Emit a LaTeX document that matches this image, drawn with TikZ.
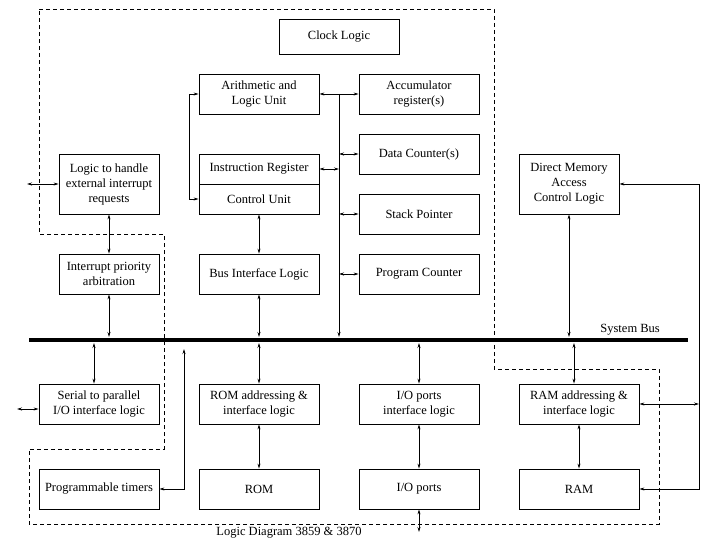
\documentclass[tikz,border=0pt]{standalone}
\usepackage{fontspec}
\setmainfont{Liberation Serif}
\usetikzlibrary{arrows.meta}

\tikzset{
  blk/.style={draw, line width=0.8pt, minimum width=120pt, minimum height=40pt, inner sep=1pt, align=center},
  sblk/.style={blk, minimum width=100pt, minimum height=60pt},
  lnk/.style={line width=0.8pt, {Stealth[length=5pt,width=3pt]}-{Stealth[length=5pt,width=3pt]}},
  lnkend/.style={line width=0.8pt, -{Stealth[length=5pt,width=3pt]}},
  frame/.style={dashed, line width=0.8pt, dash pattern=on 4pt off 3pt},
  bus/.style={line width=4.5pt}
}

\begin{document}
\begin{tikzpicture}[x=1pt, y=-1pt, font=\fontsize{12.5}{15}\selectfont]
\useasboundingbox (0,0) rectangle (716,556);

% dashed outline of the chip
\draw[frame] (39,9) -- (494,9) -- (494,369) -- (659,369) -- (659,524) -- (29,524)
  -- (29,449) -- (164,449) -- (164,234) -- (39,234) -- cycle;

% processor
\node[blk, minimum height=35pt] (clock) at (339,36.5) {Clock Logic};
\node[blk] (alu) at (259,94) {Arithmetic and\\Logic Unit};
\node[blk, minimum height=30pt] (ir) at (259,169) {Instruction Register};
\node[blk, minimum height=30pt] (cu) at (259,199) {Control Unit};
\node[blk] (bil) at (259,274) {Bus Interface Logic};
\node[blk] (acc) at (419,94) {Accumulator\\register(s)};
\node[blk] (dc) at (419,154) {Data Counter(s)};
\node[blk] (sp) at (419,214) {Stack Pointer};
\node[blk] (pc) at (419,274) {Program Counter};

% interrupts and dma
\node[sblk] (ext) at (109,184) {Logic to handle\\external interrupt\\requests};
\node[blk, minimum width=100pt] (ipa) at (109,274) {Interrupt priority\\arbitration};
\node[sblk] (dma) at (569,184) {Direct Memory\\Access\\Control Logic};

% system bus
\coordinate (busL) at (29,340);
\coordinate (busR) at (688,340);
\coordinate (busT) at (0,337);
\coordinate (busB) at (0,343);
\draw[bus] (busL) -- (busR);
\node[anchor=south east, inner sep=0pt] (buslbl) at (660,335) {System Bus};

% lower row
\node[blk] (serial) at (99,404) {Serial to parallel\\I/O interface logic};
\node[blk] (romif) at (259,404) {ROM addressing \&\\interface logic};
\node[blk] (ioif) at (419,404) {I/O ports\\interface logic};
\node[blk] (ramif) at (579,404) {RAM addressing \&\\interface logic};
\node[blk] (timers) at (99,489) {Programmable timers};
\node[blk] (rom) at (259,489) {ROM};
\node[blk] (io) at (419,489) {I/O ports};
\node[blk] (ram) at (579,489) {RAM};

\node[inner sep=0pt] (title) at (289,533) {Logic Diagram 3859 \& 3870};

% free ends
\coordinate (extin) at (27,184);
\coordinate (serin) at (17,409);
\coordinate (ioout) at (419,532);
\coordinate (brk) at (189,0);
\coordinate (ibus) at (339,0);
\coordinate (dmaln) at (699,0);
\coordinate (tmr) at (184,349);

% connectors
\draw[lnk] (extin) -- (ext.west |- extin);
\draw[lnk] (ext) -- (ipa);
\draw[lnk] (ipa.south) -- (ipa.south |- busT);
\draw[lnk] (alu.west) -- (alu.west -| brk) -- (cu.west -| brk) -- (cu.west);
\draw[lnk] (alu.east) -- (acc.west);
\draw[lnkend] (alu.east -| ibus) -- (busT -| ibus);
\draw[lnk] (ir.east) -- (ir.east -| ibus);
\draw[lnk] (dc.west -| ibus) -- (dc.west);
\draw[lnk] (sp.west -| ibus) -- (sp.west);
\draw[lnk] (pc.west -| ibus) -- (pc.west);
\draw[lnk] (cu) -- (bil);
\draw[lnk] (bil.south) -- (bil.south |- busT);
\draw[lnk] (dma.south) -- (dma.south |- busT);
\draw[lnk] (ram.east) -- (ram.east -| dmaln) -- (dma.east -| dmaln) -- (dma.east);
\draw[lnk] (ramif.east) -- (ramif.east -| dmaln);

\draw[lnk] ([xshift=-5pt]serial.north |- busB) -- ([xshift=-5pt]serial.north);
\draw[lnk] (serin) -- (serial.west |- serin);
\draw[lnk] (tmr) |- (timers.east);
\draw[lnk] (romif.north |- busB) -- (romif.north);
\draw[lnk] (romif) -- (rom);
\draw[lnk] (ioif.north |- busB) -- (ioif.north);
\draw[lnk] (ioif) -- (io);
\draw[lnk] (io.south) -- (ioout);
\draw[lnk] ([xshift=-5pt]ramif.north |- busB) -- ([xshift=-5pt]ramif.north);
\draw[lnk] (ramif) -- (ram);
\end{tikzpicture}
\end{document}
